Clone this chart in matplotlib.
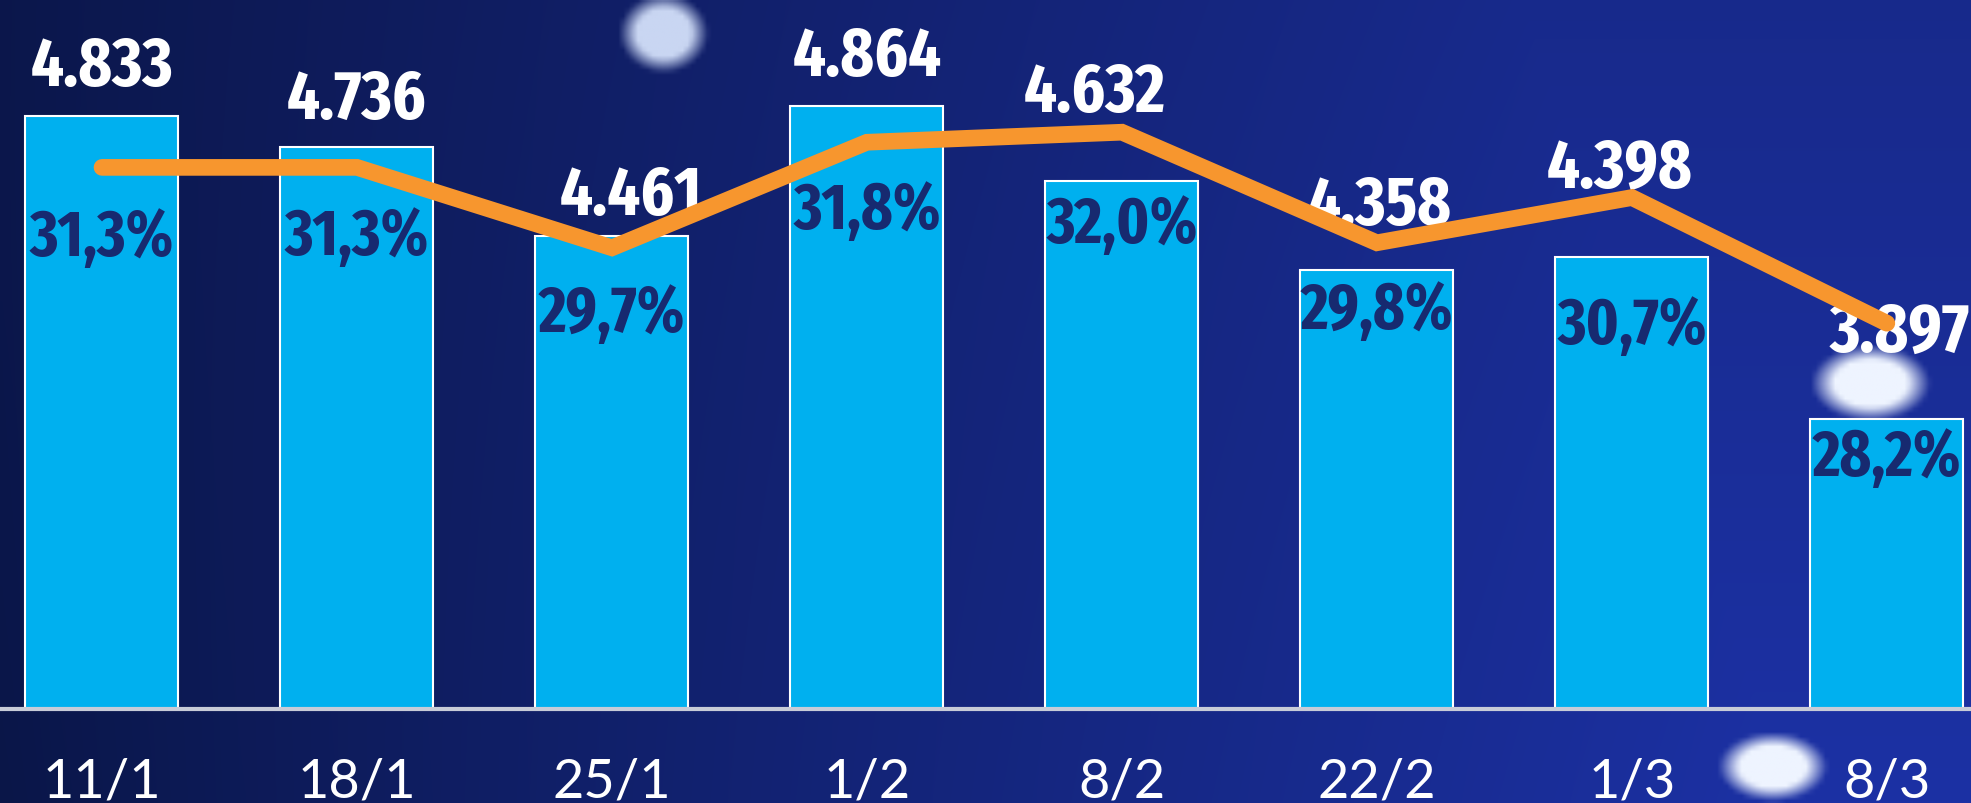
import numpy as np
import matplotlib
matplotlib.use('Agg')
import matplotlib.pyplot as plt
from matplotlib.colors import to_rgb

# data
dates = ['11/1', '18/1', '25/1', '1/2', '8/2', '22/2', '1/3', '8/3']
totals = [4833, 4736, 4461, 4864, 4632, 4358, 4398, 3897]
shares = [31.3, 31.3, 29.7, 31.8, 32.0, 29.8, 30.7, 28.2]

total_labels = ['4.833', '4.736', '4.461', '4.864', '4.632', '4.358', '4.398', '3.897']
share_labels = ['31,3%', '31,3%', '29,7%', '31,8%', '32,0%', '29,8%', '30,7%', '28,2%']

# label nudges (points)
total_dx = [0, 0, 14, 0, -20, 2, -9, 9]
total_dy = [22, 21, 16, 22, 50, 33, 50, 49]
share_dy = [63, 62, 60, 62, 79, 61, 105, 109]

W, H = 1971, 804
fig = plt.figure(figsize=(W / 100, H / 100), dpi=100)

# background gradient with a few soft light spots
bg = fig.add_axes([0, 0, 1, 1])
bg.set_axis_off()
nx, ny = 400, 164
xx, yy = np.meshgrid(np.linspace(0, 1, nx), np.linspace(0, 1, ny))
left = np.array(to_rgb('#0a1648'))
right = np.array(to_rgb('#1c31a4'))
t = np.clip(xx * 1.1 + (1 - yy) * 0.15, 0, 1) ** 0.9
img = left[None, None, :] * (1 - t[..., None]) + right[None, None, :] * t[..., None]
img *= (0.85 + 0.15 * yy)[..., None]
img = np.clip(img, 0, 1)

def spot(cx, cy, rx, ry):
    d = np.sqrt(((xx * W - cx) / rx) ** 2 + ((yy * H - cy) / ry) ** 2)
    return np.clip((1.25 - d) / 0.5, 0, 1)

for cx, cy, rx, ry, c in [(663, 32, 36, 32, '#c9d6f2'),
                           (1873, 384, 48, 31, '#eef4ff'),
                           (1775, 770, 44, 28, '#eef4ff')]:
    a = spot(cx, cy, rx, ry)[..., None]
    img = img * (1 - a) + np.array(to_rgb(c))[None, None, :] * a

bg.imshow(img, extent=[0, 1, 0, 1], aspect='auto', origin='upper', interpolation='bilinear')
bg.set_xlim(0, 1)
bg.set_ylim(0, 1)

ax = fig.add_axes([0, 94 / H, 1, 710 / H])
ax.patch.set_alpha(0)
x = np.arange(len(dates))
ax.bar(x, [v - 3000 for v in totals], bottom=3000, width=0.6,
       color='#00b0ef', edgecolor='white', linewidth=1.5, zorder=2)
ax.set_xlim(-0.4, 7.33)
ax.set_ylim(3000, 5194)
for s in ['top', 'right', 'left']:
    ax.spines[s].set_visible(False)
ax.spines['bottom'].set_color('#c8ccd8')
ax.spines['bottom'].set_linewidth(3)
ax.set_yticks([])
ax.set_xticks(x)
ax.set_xticklabels(dates, family=['Lato'], fontweight='normal', fontsize=39, color='white')
ax.tick_params(axis='x', length=0, pad=34)

ax2 = ax.twinx()
ax2.set_ylim(20.525, 34.65)
ax2.set_axis_off()
ax2.plot(x, shares, color='#f7962e', linewidth=12, solid_capstyle='round',
         solid_joinstyle='miter', zorder=3)

cond = ['Fira Sans Extra Condensed', 'DejaVu Sans']
for i in range(len(dates)):
    ax.annotate(total_labels[i], (x[i], totals[i]), xytext=(total_dx[i], total_dy[i]),
                textcoords='offset points', ha='center', va='baseline',
                fontsize=50, fontweight='bold', family=cond, color='white', zorder=5)
    ax2.annotate(share_labels[i], (x[i], shares[i]), xytext=(0, -share_dy[i]),
                 textcoords='offset points', ha='center', va='baseline',
                 fontsize=47, fontweight='bold', family=cond, color='#172a70', zorder=5)

fig.savefig('out.png', dpi=100)
